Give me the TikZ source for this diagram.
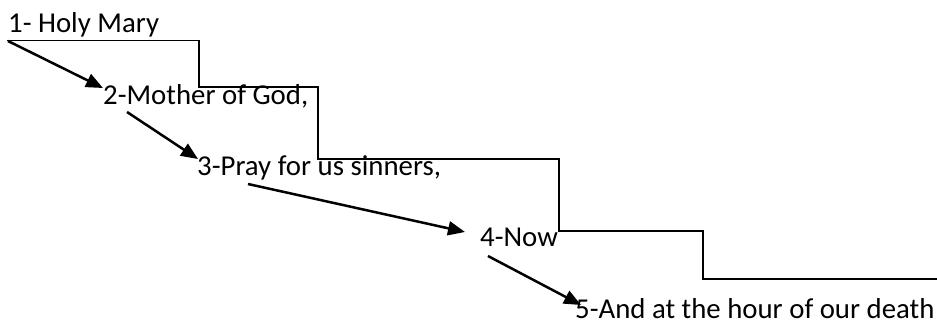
\documentclass[tikz,border=0pt]{standalone}
\usepackage{fontspec}
\setmainfont{Carlito}
\usetikzlibrary{arrows.meta}
\begin{document}
\begin{tikzpicture}[x=1pt,y=-1pt,
  lbl/.style={anchor=base west,inner sep=0pt,font=\fontsize{28.8}{30}\selectfont},
  stair/.style={line width=1.9pt},
  conn/.style={line width=2.5pt,-{Triangle[length=17pt,width=14pt]}}]
\useasboundingbox (0,0) rectangle (937,325);
\node[lbl] (t1) at (8,32) {1- Holy Mary};
\node[lbl] (t2) at (103,104) {2-Mother of God,};
\node[lbl] (t3) at (197,175) {3-Pray for us sinners,};
\node[lbl] (t4) at (480,246) {4-Now};
\node[lbl] (t5) at (575,318) {5-And at the hour of our death};
% stair line
\coordinate (s0) at (7,40.5);
\draw[stair] (s0) -- (199,40.5) -- (199,87) -- (318,87) -- (318,159) -- (559,159) -- (559,231) -- (703,231) -- (703,279) -- (937,279);
% arrows
\coordinate (a1s) at (8,41);
\coordinate (a1e) at (103,88);
\coordinate (a2s) at (127,112);
\coordinate (a2e) at (198,159);
\coordinate (a3s) at (248,184);
\coordinate (a3e) at (465,232);
\coordinate (a4s) at (488,256);
\coordinate (a4e) at (581,305);
\draw[conn] (a1s) -- (a1e);
\draw[conn] (a2s) -- (a2e);
\draw[conn] (a3s) -- (a3e);
\draw[conn] (a4s) -- (a4e);
\end{tikzpicture}
\end{document}
